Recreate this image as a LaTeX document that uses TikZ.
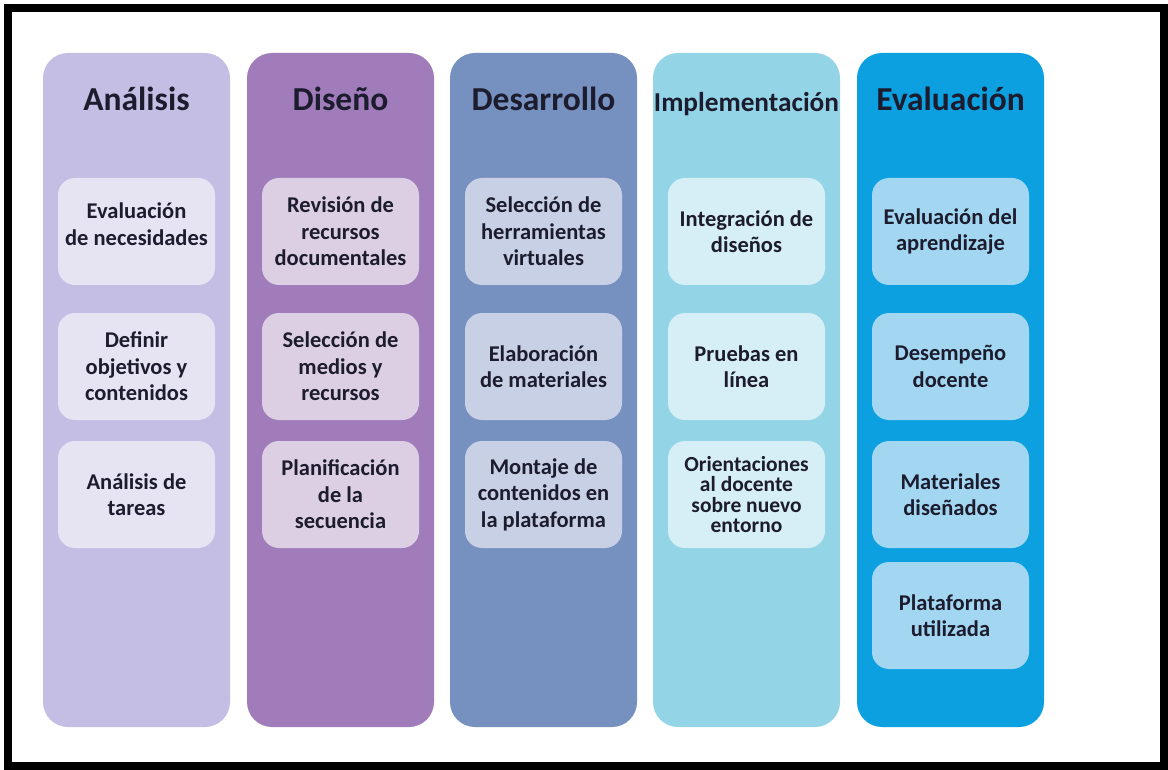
\documentclass[tikz,border=0pt]{standalone}
\usepackage{fontspec}
\setmainfont{Carlito}
\definecolor{txt}{HTML}{1C1C2E}
\definecolor{c1}{HTML}{C4BEE4}
\definecolor{b1}{HTML}{E6E4F2}
\definecolor{c2}{HTML}{A07DBA}
\definecolor{b2}{HTML}{DCCFE4}
\definecolor{c3}{HTML}{7690BF}
\definecolor{b3}{HTML}{C8D0E5}
\definecolor{c4}{HTML}{93D5E7}
\definecolor{b4}{HTML}{D6EEF5}
\definecolor{c5}{HTML}{0CA0E0}
\definecolor{b5}{HTML}{A3D7F1}
\tikzset{
  colbox/.style={inner sep=0pt, minimum width=187pt, minimum height=674pt, rounded corners=25pt},
  itembox/.style={inner sep=0pt, minimum width=157pt, minimum height=107pt, rounded corners=17pt,
    align=center, text=txt, font=\fontsize{22.5}{26.5}\selectfont\bfseries},
  itemtext/.style={inner sep=0pt, align=center, text=txt, font=\fontsize{22.5}{26.5}\selectfont\bfseries},
  head/.style={anchor=base, text=txt, inner sep=0pt, font=\fontsize{33.5}{38}\selectfont\bfseries},
}
\begin{document}
\begin{tikzpicture}[x=1pt,y=-1pt]
\useasboundingbox (0,0) rectangle (1168,770);
\fill[white] (0,0) rectangle (1168,770);
\draw[line width=8pt] (7.5,8) rectangle (1164,766);
% columns
\node[colbox, fill=c1] (col1) at (136.5,390) {};
\node[colbox, fill=c2] (col2) at (340.5,390) {};
\node[colbox, fill=c3] (col3) at (543.5,390) {};
\node[colbox, fill=c4] (col4) at (746.5,390) {};
\node[colbox, fill=c5] (col5) at (950.5,390) {};
% headers
\node[head] (h1) at (136.5,111) {Análisis};
\node[head] (h2) at (340.5,111) {Diseño};
\node[head] (h3) at (543.5,111) {Desarrollo};
\node[head, font=\fontsize{27.3}{30}\selectfont\bfseries] (h4) at (746.5,112) {Implementación};
\node[head] (h5) at (950.5,111) {Evaluación};
% column 1
\node[itembox, fill=b1] (a1) at (136.5,231.5) {};
\node[itemtext] (a1t) at (136.5,224) {Evaluación\\de necesidades};
\node[itembox, fill=b1] (a2) at (136.5,366.5) {Definir\\objetivos y\\contenidos};
\node[itembox, fill=b1] (a3) at (136.5,494.5) {Análisis de\\tareas};
% column 2
\node[itembox, fill=b2] (d1) at (340.5,231.5) {Revisión de\\recursos\\documentales};
\node[itembox, fill=b2] (d2) at (340.5,366.5) {Selección de\\medios y\\recursos};
\node[itembox, fill=b2] (d3) at (340.5,494.5) {Planificación\\de la\\secuencia};
% column 3
\node[itembox, fill=b3] (e1) at (543.5,231.5) {Selección de\\herramientas\\virtuales};
\node[itembox, fill=b3] (e2) at (543.5,366.5) {Elaboración\\de materiales};
\node[itembox, fill=b3] (e3) at (543.5,494.5) {Montaje de\\contenidos en\\la plataforma};
% column 4
\node[itembox, fill=b4] (i1) at (746.5,231.5) {Integración de\\diseños};
\node[itembox, fill=b4] (i2) at (746.5,366.5) {Pruebas en\\línea};
\node[itembox, fill=b4, font=\fontsize{21.5}{20.5}\selectfont\bfseries] (i3) at (746.5,494.5) {Orientaciones\\al docente\\sobre nuevo\\entorno};
% column 5
\node[itembox, fill=b5] (v1) at (950.5,231.5) {Evaluación del\\aprendizaje};
\node[itembox, fill=b5] (v2) at (950.5,366.5) {Desempeño\\docente};
\node[itembox, fill=b5] (v3) at (950.5,494.5) {Materiales\\diseñados};
\node[itembox, fill=b5] (v4) at (950.5,615.5) {Plataforma\\utilizada};
\end{tikzpicture}
\end{document}
